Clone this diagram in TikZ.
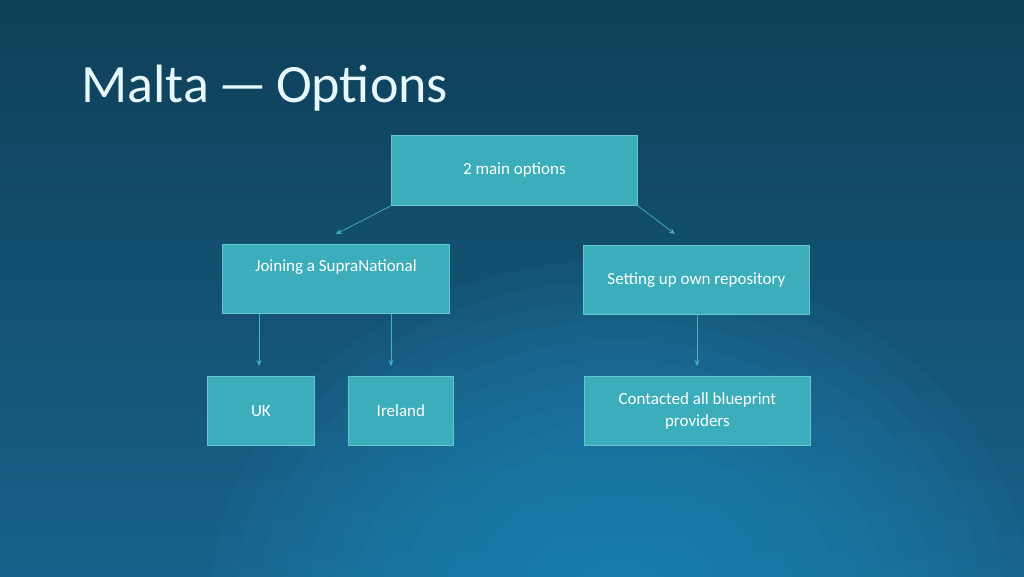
\documentclass[tikz,border=0pt]{standalone}
\usepackage{fontspec}
\setmainfont{Carlito}
\usetikzlibrary{arrows.meta}
\definecolor{bgtop}{HTML}{0F3F58}
\definecolor{bgbot}{HTML}{17628A}
\definecolor{glow}{HTML}{2690C4}
\definecolor{boxfill}{HTML}{3BADBB}
\definecolor{boxline}{HTML}{66C6D2}
\definecolor{arr}{HTML}{45B3C2}
\tikzset{
  bx/.style={draw=boxline, line width=0.8pt, fill=boxfill, text=white, font=\fontsize{17}{22}\selectfont, align=center, anchor=north west, inner sep=0pt},
  conn/.style={draw=arr, line width=0.7pt, -{Stealth[length=6pt,width=5pt]}}
}
\begin{document}
\begin{tikzpicture}[x=1pt,y=-1pt]
\useasboundingbox (0,0) rectangle (1024,576);
\shade[top color=bgtop, bottom color=bgbot] (0,0) rectangle (1024,576);
\begin{scope}
\clip (0,0) rectangle (1024,576);
\foreach \r in {340,320,...,40} {\fill[glow, opacity=0.07] (620,600) ellipse ({\r*1.2} and \r);}
\end{scope}
\node[anchor=base west, text=white!90!cyan, font=\fontsize{54}{64}\selectfont] (title) at (78,102) {Malta\,—\,Options};
\node[bx, minimum width=246pt, minimum height=70pt] (main) at (391,135) {2 main options};
\node[bx, minimum width=227pt, minimum height=69pt] (join) at (222,244) {Joining a SupraNational\\[4pt]};
\node[bx, minimum width=226pt, minimum height=69pt] (own) at (583,245) {Setting up own repository};
\node[bx, minimum width=107pt, minimum height=69pt] (uk) at (207,376) {UK};
\node[bx, minimum width=105pt, minimum height=69pt] (ire) at (348,376) {Ireland};
\node[bx, minimum width=226pt, minimum height=69pt] (cont) at (584,376) {Contacted all blueprint\\providers};
\coordinate (a1) at (336,234);
\coordinate (a2) at (675,234);
\coordinate (a3) at (259,366);
\coordinate (a4) at (391,366);
\coordinate (a5) at (697,366);
\draw[conn] (main.south west) -- (a1);
\draw[conn] (main.south east) -- (a2);
\draw[conn] (join.south west -| a3) -- (a3);
\draw[conn] (join.south west -| a4) -- (a4);
\draw[conn] (own.south west -| a5) -- (a5);
\end{tikzpicture}
\end{document}
